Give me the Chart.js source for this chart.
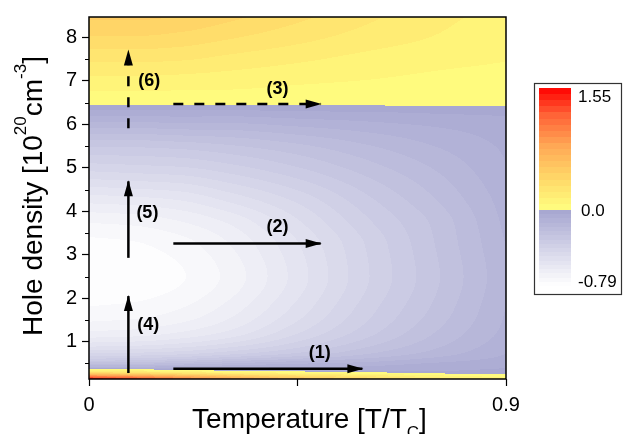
<!DOCTYPE html>
<html>
<head>
<meta charset="utf-8">
<title>Hole density vs temperature</title>
<script src="https://cdn.jsdelivr.net/npm/chart.js@4.4.0/dist/chart.umd.min.js"></script>
<style>
    html, body { margin: 0; padding: 0; background: #ffffff; }
    canvas { display: block; }
</style>
</head>
<body>
<canvas id="contourChart" width="631" height="434"></canvas>
<script>
// Grid of the map
const temperatures = [0, 0.1, 0.2, 0.3, 0.45, 0.6, 0.75, 0.9];
const densities = [0.143, 0.22, 0.3, 0.36, 0.42, 0.75, 1.25, 1.75, 2.5, 3.25, 3.75, 4.25, 5, 5.5, 6, 6.4, 6.5, 7, 7.5, 8, 8.47];

// One row per density, one value per temperature
const fieldValues = [
    [1.55, 1.35, 1.12, 0.9, 0.62, 0.4, 0.22, 0.1],
    [0.9, 0.78, 0.62, 0.48, 0.32, 0.2, 0.09, 0.04],
    [0.3, 0.24, 0.16, 0.1, 0.04, 0.0, -0.03, -0.04],
    [0.05, 0.02, -0.02, -0.05, -0.07, -0.06, -0.05, -0.04],
    [-0.12, -0.12, -0.11, -0.1, -0.09, -0.08, -0.06, -0.05],
    [-0.45, -0.44, -0.42, -0.38, -0.31, -0.23, -0.16, -0.09],
    [-0.66, -0.65, -0.62, -0.57, -0.45, -0.33, -0.22, -0.12],
    [-0.74, -0.73, -0.7, -0.64, -0.51, -0.37, -0.25, -0.13],
    [-0.79, -0.78, -0.75, -0.69, -0.55, -0.4, -0.27, -0.14],
    [-0.76, -0.75, -0.72, -0.66, -0.53, -0.39, -0.26, -0.13],
    [-0.7, -0.69, -0.66, -0.61, -0.49, -0.36, -0.25, -0.12],
    [-0.6, -0.59, -0.57, -0.52, -0.43, -0.32, -0.22, -0.11],
    [-0.42, -0.41, -0.4, -0.37, -0.31, -0.24, -0.17, -0.09],
    [-0.3, -0.3, -0.29, -0.27, -0.23, -0.18, -0.13, -0.08],
    [-0.15, -0.15, -0.14, -0.14, -0.12, -0.1, -0.08, -0.06],
    [-0.02, -0.02, -0.02, -0.02, -0.015, -0.015, -0.01, -0.01],
    [0.015, 0.015, 0.015, 0.02, 0.02, 0.025, 0.03, 0.03],
    [0.13, 0.13, 0.12, 0.11, 0.09, 0.075, 0.06, 0.05],
    [0.25, 0.25, 0.24, 0.21, 0.17, 0.13, 0.1, 0.08],
    [0.38, 0.38, 0.36, 0.32, 0.26, 0.2, 0.15, 0.1],
    [0.48, 0.48, 0.46, 0.41, 0.33, 0.25, 0.18, 0.12]
];

const valueMin = -0.79;
const valueMax = 1.55;

// Axis ticks
const xTicks = [0, 0.45, 0.9];
const xTickLabels = ['0', '', '0.9'];
const yTicks = [1, 2, 3, 4, 5, 6, 7, 8];
const yMinorTicks = [0.5, 1.5, 2.5, 3.5, 4.5, 5.5, 6.5, 7.5];
const colorbarTicks = [1.55, 0.0, -0.79];
const colorbarTickLabels = ['1.55', '0.0', '-0.79'];

// Arrows (temperature / density of start and end)
const arrowNames = ['(1)', '(2)', '(3)', '(4)', '(5)', '(6)'];
const arrowFromT = [0.182, 0.182, 0.182, 0.085, 0.085, 0.085];
const arrowFromN = [0.38, 3.26, 6.47, 0.28, 2.93, 5.91];
const arrowToT = [0.59, 0.5, 0.5, 0.085, 0.085, 0.085];
const arrowToN = [0.38, 3.26, 6.47, 2.05, 4.69, 7.7];
const arrowDashed = [false, false, true, false, false, true];

// where the (n) labels sit, in data units
const labelAtT = [0.498, 0.407, 0.407, 0.128, 0.126, 0.13];
const labelAtN = [0.73, 3.64, 6.82, 1.38, 3.96, 7.0];

const FONT = 'Arial, "Liberation Sans", Helvetica, sans-serif';

// monotone cubic slopes (Fritsch-Carlson) so the bands come out smooth
function monotoneSlopes(xs, ys) {
    const n = xs.length;
    const d = [];
    for (let i = 0; i < n - 1; i++) d.push((ys[i + 1] - ys[i]) / (xs[i + 1] - xs[i]));
    const m = new Array(n);
    m[0] = d[0];
    m[n - 1] = d[n - 2];
    for (let i = 1; i < n - 1; i++) {
        if (d[i - 1] * d[i] <= 0) {
            m[i] = 0;
        } else {
            const w1 = 2 * (xs[i + 1] - xs[i]) + (xs[i] - xs[i - 1]);
            const w2 = (xs[i + 1] - xs[i]) + 2 * (xs[i] - xs[i - 1]);
            m[i] = (w1 + w2) / (w1 / d[i - 1] + w2 / d[i]);
        }
    }
    return m;
}

function hermite(xs, ys, m, v) {
    let i = 0;
    while (i < xs.length - 2 && v > xs[i + 1]) i++;
    const h = xs[i + 1] - xs[i];
    let t = (v - xs[i]) / h;
    t = Math.max(0, Math.min(1, t));
    const t2 = t * t, t3 = t2 * t;
    return (2 * t3 - 3 * t2 + 1) * ys[i] + (t3 - 2 * t2 + t) * h * m[i] +
        (-2 * t3 + 3 * t2) * ys[i + 1] + (t3 - t2) * h * m[i + 1];
}

// columns of the grid, with their slopes along the density axis
const columns = temperatures.map((t, i) => fieldValues.map(row => row[i]));
const columnSlopes = columns.map(col => monotoneSlopes(densities, col));

function rowAt(n) {
    return columns.map((col, i) => hermite(densities, col, columnSlopes[i], n));
}

const positiveStops = [
    [0, [255, 255, 128]],
    [0.4, [255, 216, 104]],
    [0.8, [255, 170, 86]],
    [1.2, [255, 100, 55]],
    [1.55, [255, 0, 0]]
];

function colourFor(v) {
    if (v < 0) {
        const t = Math.min(1, -v / -valueMin);
        const lav = [166, 166, 208];
        return lav.map(c => Math.round(c + (255 - c) * t));
    }
    const p = Math.min(v, valueMax);
    for (let k = 0; k < positiveStops.length - 1; k++) {
        const [v0, c0] = positiveStops[k];
        const [v1, c1] = positiveStops[k + 1];
        if (p <= v1) {
            const f = (p - v0) / (v1 - v0);
            return c0.map((c, m) => Math.round(c + (c1[m] - c) * f));
        }
    }
    return [255, 0, 0];
}

// contour bands
const negStep = -valueMin / 18;
const posStep = valueMax / 20;

function bandColour(v) {
    if (v < 0) {
        const k = Math.floor(v / negStep);
        return colourFor(Math.max(valueMin, (k + 0.5) * negStep));
    }
    const k = Math.floor(v / posStep);
    return colourFor(Math.min(valueMax, (k + 0.5) * posStep));
}

const fieldPlugin = {
    id: 'field',
    beforeDatasetsDraw(chart) {
        const { ctx, chartArea: a, scales: { x, y } } = chart;
        const w = Math.round(a.right - a.left);
        const h = Math.round(a.bottom - a.top);
        const off = document.createElement('canvas');
        off.width = w;
        off.height = h;
        const octx = off.getContext('2d');
        const img = octx.createImageData(w, h);
        for (let py = 0; py < h; py++) {
            const n = y.getValueForPixel(a.top + py + 0.5);
            const row = rowAt(n);
            const slopes = monotoneSlopes(temperatures, row);
            for (let px = 0; px < w; px++) {
                const t = x.getValueForPixel(a.left + px + 0.5);
                const c = bandColour(hermite(temperatures, row, slopes, t));
                const o = (py * w + px) * 4;
                img.data[o] = c[0];
                img.data[o + 1] = c[1];
                img.data[o + 2] = c[2];
                img.data[o + 3] = 255;
            }
        }
        octx.putImageData(img, 0, 0);
        ctx.drawImage(off, a.left, a.top);
    }
};

function drawArrowHead(ctx, x0, y0, x1, y1) {
    const ang = Math.atan2(y1 - y0, x1 - x0);
    const len = 15, half = 4.5;
    ctx.save();
    ctx.translate(x1, y1);
    ctx.rotate(ang);
    ctx.beginPath();
    ctx.moveTo(1, 0);
    ctx.lineTo(-len, -half);
    ctx.lineTo(-len, half);
    ctx.closePath();
    ctx.fillStyle = '#000';
    ctx.fill();
    ctx.restore();
}

function drawRichText(ctx, parts, x, y) {
    // parts: [text, fontSize, shift]
    let total = 0;
    parts.forEach(p => {
        ctx.font = p[1] + 'px ' + FONT;
        total += ctx.measureText(p[0]).width;
    });
    let cx = x - total / 2;
    parts.forEach(p => {
        ctx.font = p[1] + 'px ' + FONT;
        ctx.fillText(p[0], cx, y + p[2]);
        cx += ctx.measureText(p[0]).width;
    });
}

const decorPlugin = {
    id: 'decor',
    afterDraw(chart) {
        const { ctx, chartArea: a, scales: { x, y } } = chart;
        ctx.save();

        // arrow heads and labels
        for (let i = 0; i < arrowNames.length; i++) {
            drawArrowHead(ctx,
                x.getPixelForValue(arrowFromT[i]), y.getPixelForValue(arrowFromN[i]),
                x.getPixelForValue(arrowToT[i]), y.getPixelForValue(arrowToN[i]));
            ctx.font = 'bold 18px ' + FONT;
            ctx.fillStyle = '#000';
            ctx.textAlign = 'center';
            ctx.textBaseline = 'middle';
            ctx.fillText(arrowNames[i], x.getPixelForValue(labelAtT[i]), y.getPixelForValue(labelAtN[i]));
        }

        // frame
        ctx.strokeStyle = '#000';
        ctx.lineWidth = 1.5;
        ctx.strokeRect(a.left, a.top, a.right - a.left, a.bottom - a.top);

        // minor ticks on the density axis
        ctx.lineWidth = 1;
        yMinorTicks.forEach(v => {
            const py = Math.round(y.getPixelForValue(v)) + 0.5;
            ctx.beginPath();
            ctx.moveTo(a.left - 4, py);
            ctx.lineTo(a.left, py);
            ctx.stroke();
        });

        // axis titles
        ctx.fillStyle = '#000';
        ctx.textAlign = 'left';
        ctx.textBaseline = 'alphabetic';
        drawRichText(ctx, [['Temperature [T/T', 28, 0], ['C', 17, 10], [']', 28, 0]], (a.left + a.right) / 2 + 12, 428);

        ctx.save();
        ctx.translate(42, (a.top + a.bottom) / 2 - 2);
        ctx.rotate(-Math.PI / 2);
        drawRichText(ctx, [['Hole density [10', 28, 0], ['20', 17, -16], ['cm', 28, 0], ['-3', 17, -16], [']', 28, 0]], 0, 0);
        ctx.restore();

        // colour bar
        const box = { left: 534, top: 83, right: 621, bottom: 294 };
        const bar = { left: 539, right: 571, top: 88, zero: 210, bottom: 286 };
        for (let py = bar.top; py < bar.bottom; py++) {
            let v;
            if (py < bar.zero) {
                v = valueMax * (bar.zero - py - 0.5) / (bar.zero - bar.top);
            } else {
                v = valueMin * (py + 0.5 - bar.zero) / (bar.bottom - bar.zero);
            }
            const c = bandColour(v);
            ctx.fillStyle = 'rgb(' + c[0] + ',' + c[1] + ',' + c[2] + ')';
            ctx.fillRect(bar.left, py, bar.right - bar.left, 1);
        }
        ctx.strokeStyle = '#333';
        ctx.lineWidth = 1.2;
        ctx.strokeRect(box.left + 0.5, box.top + 0.5, box.right - box.left, box.bottom - box.top);

        ctx.fillStyle = '#000';
        ctx.font = '17px ' + FONT;
        ctx.textAlign = 'left';
        ctx.textBaseline = 'middle';
        const labelY = [97, 211, 282];
        const labelX = [578, 581, 578];
        colorbarTicks.forEach((v, i) => {
            ctx.fillText(colorbarTickLabels[i], labelX[i], labelY[i]);
        });

        ctx.restore();
    }
};

function buildArrowDatasets() {
    return arrowNames.map((name, i) => ({
        label: name,
        data: [
            { x: arrowFromT[i], y: arrowFromN[i] },
            { x: arrowToT[i], y: arrowToN[i] }
        ],
        showLine: true,
        borderColor: '#000',
        borderWidth: 2.5,
        borderDash: arrowDashed[i] ? [10, 11] : [],
        borderCapStyle: 'butt',
        pointRadius: 0,
        fill: false
    }));
}

const ctx = document.getElementById('contourChart').getContext('2d');

new Chart(ctx, {
    type: 'scatter',
    data: { datasets: buildArrowDatasets() },
    options: {
        responsive: false,
        devicePixelRatio: 1,
        animation: false,
        layout: { padding: { top: 10, right: 125, left: 0, bottom: 0 } },
        plugins: {
            legend: { display: false },
            tooltip: { enabled: false },
            title: { display: false }
        },
        scales: {
            x: {
                type: 'linear',
                min: 0,
                max: 0.9,
                afterBuildTicks: scale => { scale.ticks = xTicks.map(v => ({ value: v })); },
                afterFit: scale => { scale.height = 55; },
                ticks: {
                    autoSkip: false,
                    maxRotation: 0,
                    padding: 7,
                    color: '#000',
                    font: { family: FONT, size: 20 },
                    callback: (value, index) => xTickLabels[index]
                },
                grid: { drawOnChartArea: false, tickLength: 7, tickColor: '#000', tickWidth: 1.2 },
                border: { display: false }
            },
            y: {
                type: 'linear',
                min: 0.143,
                max: 8.47,
                afterBuildTicks: scale => { scale.ticks = yTicks.map(v => ({ value: v })); },
                afterFit: scale => { scale.width = 89; },
                ticks: {
                    autoSkip: false,
                    padding: 5,
                    color: '#000',
                    font: { family: FONT, size: 20 },
                    callback: value => String(value)
                },
                grid: { drawOnChartArea: false, tickLength: 7, tickColor: '#000', tickWidth: 1.2 },
                border: { display: false }
            }
        }
    },
    plugins: [fieldPlugin, decorPlugin]
});
</script>
</body>
</html>
